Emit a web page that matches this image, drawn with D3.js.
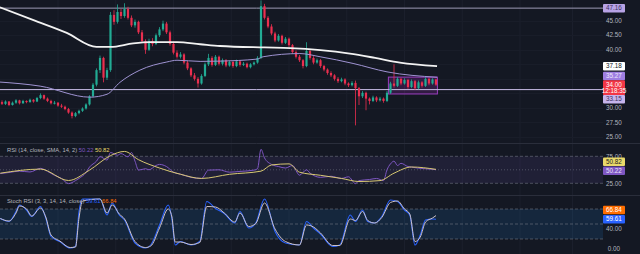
<!DOCTYPE html>
<html lang="en">
<head>
<meta charset="UTF-8">
<title>Price chart with RSI and Stoch RSI</title>
<script src="https://cdn.jsdelivr.net/npm/d3@7"></script>
<style>
  body { margin: 0; background: #141823; }
  svg { display: block; font-family: "Liberation Sans", Arial, sans-serif; }
</style>
</head>
<body>
<svg id="chart" width="640" height="254"></svg>
<script>
// candles: [open, high, low, close], one per bar
const candles = [
  [31.0,31.3,30.5,30.7],[30.7,31.3,30.5,31.1],[31.1,31.2,30.3,30.5],[30.5,31.1,30.4,30.9],
  [30.9,31.5,30.7,31.3],[31.3,31.4,30.6,30.8],[30.8,31.4,30.7,31.2],[31.2,31.3,30.8,31.0],
  [31.0,31.6,30.9,31.4],[31.4,31.5,30.9,31.1],[31.1,31.9,31.0,31.7],[31.7,32.5,31.5,32.2],
  [32.2,32.3,31.4,31.6],[31.6,31.8,31.0,31.2],[31.2,31.4,30.6,30.8],[30.8,31.2,30.6,30.9],
  [30.9,31.0,30.2,30.4],[30.4,30.7,30.0,30.2],[30.2,30.4,29.6,29.8],[29.8,30.0,29.0,29.2],
  [29.2,29.4,28.2,28.6],[28.6,29.3,28.4,29.1],[29.1,29.7,28.9,29.5],[29.5,30.1,29.3,29.9],
  [29.9,30.8,29.7,30.6],[30.6,32.2,30.4,32.0],[32.0,34.3,31.8,34.0],[34.0,36.8,33.7,36.5],
  [36.5,39.0,36.0,38.6],[38.6,38.8,34.4,35.2],[35.2,36.9,34.8,36.5],[36.5,46.5,36.2,46.0],
  [46.0,46.8,44.3,44.8],[44.8,47.8,44.5,46.5],[46.5,47.0,45.3,45.8],[45.8,48.0,45.5,47.0],
  [47.0,47.4,45.2,45.5],[45.5,45.9,43.9,44.2],[44.2,45.2,43.8,44.8],[44.8,45.0,42.7,43.0],
  [43.0,43.4,41.2,41.5],[41.5,41.8,39.3,40.0],[40.0,41.9,39.8,41.5],[41.5,42.0,40.6,41.0],
  [41.0,42.8,40.8,42.5],[42.5,43.9,42.2,43.5],[43.5,45.0,43.2,44.5],[44.5,44.8,42.7,43.0],
  [43.0,43.3,40.7,41.0],[41.0,41.4,39.2,39.5],[39.5,39.9,38.5,38.8],[38.8,39.6,38.5,39.2],
  [39.2,39.4,37.5,37.8],[37.8,38.1,36.5,36.8],[36.8,37.0,35.3,35.6],[35.6,36.0,34.7,35.0],
  [35.0,35.3,33.5,34.2],[34.2,35.8,34.0,35.5],[35.5,37.8,35.3,37.5],[37.5,39.3,37.2,38.6],
  [38.6,38.9,37.1,37.4],[37.4,39.1,37.2,38.8],[38.8,39.0,37.3,37.6],[37.6,38.5,37.3,38.2],
  [38.2,38.4,37.0,37.3],[37.3,38.2,37.1,37.9],[37.9,38.1,36.9,37.2],[37.2,38.3,37.0,38.0],
  [38.0,38.2,37.1,37.4],[37.4,37.9,37.2,37.6],[37.6,37.8,36.8,37.0],[37.0,37.7,36.8,37.5],
  [37.5,38.0,37.3,37.8],[37.8,38.9,37.6,38.6],[38.6,48.5,38.4,47.5],[47.5,47.9,45.2,45.5],
  [45.5,45.8,43.7,44.0],[44.0,44.4,42.5,42.8],[42.8,43.1,41.3,41.6],[41.6,42.7,41.4,42.4],
  [42.4,42.6,40.9,41.2],[41.2,42.2,41.0,41.9],[41.9,42.1,40.5,40.8],[40.8,41.0,39.3,39.6],
  [39.6,39.9,38.5,38.8],[38.8,39.1,37.9,38.2],[38.2,38.4,36.8,37.2],[37.2,41.3,37.0,39.8],
  [39.8,40.1,38.3,38.6],[38.6,38.9,37.5,37.8],[37.8,38.5,37.6,38.2],[38.2,38.4,36.9,37.2],
  [37.2,37.4,36.3,36.6],[36.6,36.8,35.7,36.0],[36.0,36.3,35.3,35.6],[35.6,35.8,34.7,35.0],
  [35.0,35.3,34.3,34.6],[34.6,35.2,34.4,34.9],[34.9,35.1,33.9,34.2],[34.2,34.4,33.6,33.9],
  [33.9,34.6,33.7,34.3],[34.3,34.7,27.0,33.4],[33.4,33.6,30.5,32.0],[32.0,32.9,31.7,32.6],
  [32.6,32.8,29.6,31.6],[31.6,31.8,30.6,31.2],[31.2,32.1,31.0,31.8],[31.8,32.0,31.0,31.3],
  [31.3,31.9,31.1,31.6],[31.6,31.8,30.9,31.2],[31.2,32.9,31.0,32.6],[32.6,34.5,32.4,34.2],
  [34.2,37.5,33.5,33.8],[33.8,35.3,33.6,35.0],[35.0,35.2,33.9,34.2],[34.2,35.1,34.0,34.8],
  [34.8,35.0,33.3,33.6],[33.6,34.9,33.4,34.6],[34.6,34.8,33.1,33.4],[33.4,34.7,33.2,34.4],
  [34.4,34.6,33.5,33.8],[33.8,35.3,33.6,35.0],[35.0,35.2,33.9,34.2],[34.2,35.1,34.0,34.9],
  [34.9,35.0,33.8,34.0]
];

// moving averages, read at bar positions
const maWhiteIdx = [-0.6, 9, 18.5, 27, 31, 37.5, 42.3, 50, 56.6, 62.3, 75, 82.3, 91, 99.4, 106.6, 113.7, 124.3];
const maWhite    = [47.3, 45.1, 42.9, 40.5, 40.5, 41.1, 41.3, 41.3, 40.95, 40.65, 40.4, 40.3, 39.95, 39.35, 38.6, 37.8, 37.18];
const maPurpleIdx = [-0.6, 10.9, 25.1, 30, 33.7, 39.4, 47.1, 50, 56.6, 62.3, 72.9, 74.6, 85.1, 90.9, 100.3, 110, 124.3];
const maPurple    = [34.45, 33.75, 31.85, 32.35, 34.4, 36.5, 37.9, 38.2, 38.0, 38.05, 38.4, 38.8, 39.35, 38.8, 37.65, 36.2, 35.27];

// horizontal levels and the range box
const levels = [47.16, 33.15];
const boxBars = [110.4, 124.4];
const boxPrices = [35.3, 32.4];

// RSI and its SMA
const rsiIdx = [-0.5, 2, 5, 8, 11, 13, 15, 17, 19, 21, 22, 24, 25, 27, 28, 30, 31, 33, 34, 36,
  37, 38, 39, 41, 42, 44, 45, 47, 49, 51, 54, 57, 59, 62, 65, 68, 72, 73, 74, 75,
  77, 79, 81, 83, 85, 87, 88, 91, 94, 97, 99, 101, 102, 105, 107, 109, 110, 111, 112, 113,
  114, 116, 117, 119, 121, 124];
const rsiVals = [43, 45, 47.5, 46, 52.7, 47, 39.8, 34, 24.4, 30, 34, 45, 55, 66, 74.4, 68, 82, 77, 80, 74,
  82, 66, 49.4, 52, 50, 58, 60, 56, 45.6, 42, 36, 34, 49.4, 50, 45.6, 47, 49.4, 52, 87.9, 72,
  60, 56, 53.3, 58, 40, 50, 44, 36, 38, 34, 37, 24.4, 30, 32, 34, 30, 50, 61, 66, 58,
  62, 56, 55, 53, 52, 50.22];
const rsiMaIdx = [-0.5, 11, 19, 25, 31, 35, 39, 45, 51, 57, 65, 74, 77, 82, 85, 91, 97, 102, 108, 112, 117, 124];
const rsiMa = [43.7, 51.3, 30.2, 49.4, 76.3, 84, 68.7, 53.3, 41.7, 34, 41.7, 47.5, 59, 61, 45.6, 39.8, 34, 28.3, 30, 43.7, 55.2, 50.82];

// Stoch RSI %K and %D
const stochIdx = [-0.5, 2, 4, 5, 7, 8.5, 11, 12.5, 14, 16.5, 19.5, 21, 22, 23, 28, 30, 31.5, 33.5, 35, 38, 41, 42.5, 45, 47.5, 48.5, 49.5, 51, 54, 56.5, 58.5, 61, 63.5, 66.5, 68, 70.5, 72.5, 75, 78, 81, 85, 87, 89, 91, 94.5, 96.5, 99.5, 101, 103, 104.5, 106.5, 108.5, 111, 113, 115, 116.5, 118, 119.5, 121, 123, 124];
const stochK = [61, 55, 75, 88, 78, 65, 85, 62, 25, 15, 2, 5, 75, 100, 100, 68, 92, 68, 58, 12, 2, 8, 48, 88, 62, 8, 15, 8, 15, 95, 81, 71, 52, 75, 42, 52, 100, 35, 12, 8, 55, 42, 30, 5, 8, 68, 55, 78, 55, 52, 65, 98, 95, 78, 68, 8, 28, 58, 60, 59.61];
const stochD = [61, 56, 72, 86, 80, 66, 82, 64, 28, 16, 3, 4, 62, 96, 100, 72, 88, 70, 60, 15, 3, 6, 42, 80, 66, 14, 14, 9, 13, 85, 84, 72, 54, 72, 45, 51, 92, 40, 15, 8, 48, 44, 32, 7, 7, 60, 57, 75, 57, 52, 63, 93, 96, 80, 70, 15, 24, 54, 62, 66.84];

// axis ticks and time grid
const priceTicks = [45, 42.5, 40, 30, 27.5, 25];
const gridBars = [16, 32.5, 49, 65.5, 82, 98.5, 115, 131.5, 148, 163];

const plotRight = 603;
const svg = d3.select("#chart");

svg.append("rect").attr("width", 640).attr("height", 254).attr("fill", "#141823");

var x = d3.scaleLinear().domain([0, candles.length - 1]).range([2, 436]);
var yP = d3.scaleLinear().domain([25, 45]).range([137, 20.7]);
var yR = d3.scaleLinear().domain([25, 75]).range([183.3, 156.3]);
var yS = d3.scaleLinear().domain([0, 100]).range([249, 199]);

// clip rects for the three panes
var defs = svg.append("defs");
[["clipMain", 0, 143], ["clipRsi", 143.5, 51.5], ["clipStoch", 195.5, 58.5]].forEach(function (c) {
  defs.append("clipPath").attr("id", c[0]).append("rect")
    .attr("x", 0).attr("y", c[1]).attr("width", plotRight).attr("height", c[2]);
});

// grid
var grid = svg.append("g");
grid.selectAll(".vg").data(gridBars).enter().append("line")
  .attr("x1", function (d) { return x(d); }).attr("x2", function (d) { return x(d); })
  .attr("y1", 0).attr("y2", 254)
  .attr("stroke", "#1b1f2c").attr("stroke-width", 1);
grid.selectAll(".hg").data(priceTicks.concat([37.5, 35, 32.5])).enter().append("line")
  .attr("x1", 0).attr("x2", plotRight)
  .attr("y1", function (d) { return Math.round(yP(d)) + 0.5; })
  .attr("y2", function (d) { return Math.round(yP(d)) + 0.5; })
  .attr("stroke", "#191d29");

// pane separators
[143.5, 195.5].forEach(function (yy) {
  svg.append("line").attr("x1", 0).attr("x2", 640).attr("y1", yy).attr("y2", yy)
    .attr("stroke", "#2a2e3b");
});

// ---------- main pane ----------
var main = svg.append("g").attr("clip-path", "url(#clipMain)");

// range box
main.append("rect")
  .attr("x", x(boxBars[0])).attr("width", x(boxBars[1]) - x(boxBars[0]))
  .attr("y", yP(boxPrices[0])).attr("height", yP(boxPrices[1]) - yP(boxPrices[0]))
  .attr("fill", "rgba(156,39,176,0.22)").attr("stroke", "#9b3fc0").attr("stroke-width", 1);

// horizontal levels
main.append("line").attr("x1", 0).attr("x2", plotRight)
  .attr("y1", yP(levels[0])).attr("y2", yP(levels[0]))
  .attr("stroke", "#9d99b4").attr("stroke-width", 1);
main.append("line").attr("x1", 0).attr("x2", plotRight)
  .attr("y1", yP(levels[1])).attr("y2", yP(levels[1]))
  .attr("stroke", "#c8bce6").attr("stroke-width", 1);

var up = "#22ab94", down = "#eb2f4f";
var bars = main.selectAll(".c").data(candles).enter().append("g");
bars.append("line")
  .attr("x1", function (d, i) { return x(i); }).attr("x2", function (d, i) { return x(i); })
  .attr("y1", function (d) { return yP(d[1]); }).attr("y2", function (d) { return yP(d[2]); })
  .attr("stroke", function (d) { return d[3] >= d[0] ? up : down; }).attr("stroke-width", 0.8);
bars.append("rect")
  .attr("x", function (d, i) { return x(i) - 1.1; }).attr("width", 2.2)
  .attr("y", function (d) { return yP(Math.max(d[0], d[3])); })
  .attr("height", function (d) { return Math.max(1, Math.abs(yP(d[0]) - yP(d[3]))); })
  .attr("fill", function (d) { return d[3] >= d[0] ? up : down; });

var lineP = d3.line().x(function (d) { return x(d[0]); }).y(function (d) { return yP(d[1]); }).curve(d3.curveMonotoneX);
main.append("path").datum(d3.zip(maPurpleIdx, maPurple)).attr("d", lineP)
  .attr("fill", "none").attr("stroke", "#9f93d2").attr("stroke-width", 1);
main.append("path").datum(d3.zip(maWhiteIdx, maWhite)).attr("d", lineP)
  .attr("fill", "none").attr("stroke", "#f2f2f2").attr("stroke-width", 1.8);

// ---------- RSI pane ----------
var rsi = svg.append("g").attr("clip-path", "url(#clipRsi)");
rsi.append("rect").attr("x", 0).attr("width", plotRight)
  .attr("y", yR(75)).attr("height", yR(25) - yR(75)).attr("fill", "rgba(126,87,194,0.12)");
[[75, "3,2"], [50, "1,2"], [25, "3,2"]].forEach(function (l) {
  rsi.append("line").attr("x1", 0).attr("x2", plotRight).attr("y1", yR(l[0])).attr("y2", yR(l[0]))
    .attr("stroke", "rgba(120,123,134,0.55)").attr("stroke-dasharray", l[1]);
});
var lineR = d3.line().x(function (d) { return x(d[0]); }).y(function (d) { return yR(d[1]); }).curve(d3.curveMonotoneX);
rsi.append("path").datum(d3.zip(rsiIdx, rsiVals)).attr("d", lineR)
  .attr("fill", "none").attr("stroke", "#7e57c2").attr("stroke-width", 1);
rsi.append("path").datum(d3.zip(rsiMaIdx, rsiMa)).attr("d", lineR)
  .attr("fill", "none").attr("stroke", "#d8c872").attr("stroke-width", 1);

// ---------- Stoch RSI pane ----------
var st = svg.append("g").attr("clip-path", "url(#clipStoch)");
st.append("rect").attr("x", 0).attr("width", plotRight)
  .attr("y", yS(80)).attr("height", yS(20) - yS(80)).attr("fill", "rgba(33,150,243,0.13)");
[80, 50, 20].forEach(function (v) {
  st.append("line").attr("x1", 0).attr("x2", plotRight).attr("y1", yS(v)).attr("y2", yS(v))
    .attr("stroke", "rgba(120,123,134,0.55)").attr("stroke-dasharray", "3,2");
});
var lineS = d3.line().x(function (d) { return x(d[0]); }).y(function (d) { return yS(d[1]); }).curve(d3.curveMonotoneX);
st.append("path").datum(d3.zip(stochIdx, stochK)).attr("d", lineS)
  .attr("fill", "none").attr("stroke", "#2962ff").attr("stroke-width", 1.1);
st.append("path").datum(d3.zip(stochIdx, stochD)).attr("d", lineS)
  .attr("fill", "none").attr("stroke", "#cdc2c6").attr("stroke-width", 1);

// ---------- right scale ----------
var axis = svg.append("g").attr("font-size", 6.3);
function axisText(yy, txt) {
  axis.append("text").attr("x", 614).attr("y", yy).attr("dy", "0.35em")
    .attr("text-anchor", "middle").attr("fill", "#b2b5be").text(txt);
}
function tag(yc, txt, bg, fg, h) {
  h = h || 8.5;
  axis.append("rect").attr("x", 603).attr("y", yc - h / 2).attr("width", 22).attr("height", h)
    .attr("rx", 1).attr("fill", bg);
  axis.append("text").attr("x", 614).attr("y", yc).attr("dy", "0.35em")
    .attr("text-anchor", "middle").attr("fill", fg).text(txt);
}
priceTicks.forEach(function (p) { axisText(yP(p), p.toFixed(2)); });

tag(yP(levels[0]), levels[0].toFixed(2), "#b8a3e6", "#3b2f60");
tag(yP(maWhite[maWhite.length - 1]), maWhite[maWhite.length - 1].toFixed(2), "#ffffff", "#131722");
tag(yP(maPurple[maPurple.length - 1]) - 1.3, maPurple[maPurple.length - 1].toFixed(2), "#9f7fe2", "#ece6fb");
var last = candles[candles.length - 1][3];
axis.append("rect").attr("x", 603).attr("y", yP(last) - 4.5).attr("width", 22).attr("height", 15)
  .attr("rx", 1).attr("fill", "#f23645");
axis.append("text").attr("x", 614).attr("y", yP(last)).attr("dy", "0.35em")
  .attr("text-anchor", "middle").attr("fill", "#ffffff").text(last.toFixed(2));
axis.append("text").attr("x", 614).attr("y", yP(last) + 6.5).attr("dy", "0.35em")
  .attr("text-anchor", "middle").attr("fill", "#ffffff").text("12:18:35");
tag(yP(last) + 14.5, levels[1].toFixed(2), "#c6b4ec", "#3b2f60");

axisText(yR(75), "75.00");
axisText(yR(25), "25.00");
tag(yR(rsiMa[rsiMa.length - 1]) - 7.5, rsiMa[rsiMa.length - 1].toFixed(2), "#e9d96a", "#1b1b1b");
tag(yR(rsiVals[rsiVals.length - 1]) + 1, rsiVals[rsiVals.length - 1].toFixed(2), "#7e57c2", "#ece6fb");

axisText(yS(40), "40.00");
axisText(yS(0), "0.00");
tag(yS(stochD[stochD.length - 1]) - 5.5, stochD[stochD.length - 1].toFixed(2), "#ff6d00", "#ffffff");
tag(yS(stochK[stochK.length - 1]), stochK[stochK.length - 1].toFixed(2), "#2962ff", "#ffffff");

// ---------- pane titles ----------
var titles = svg.append("g").attr("font-size", 5.8);
var t1 = titles.append("text").attr("x", 7).attr("y", 150).attr("dy", "0.35em");
t1.append("tspan").attr("fill", "#b2b5be").text("RSI (14, close, SMA, 14, 2) ");
t1.append("tspan").attr("fill", "#7e57c2").text(rsiVals[rsiVals.length - 1].toFixed(2) + " ");
t1.append("tspan").attr("fill", "#e9d96a").text(rsiMa[rsiMa.length - 1].toFixed(2));
var t2 = titles.append("text").attr("x", 7).attr("y", 200.5).attr("dy", "0.35em");
t2.append("tspan").attr("fill", "#b2b5be").text("Stoch RSI (3, 3, 14, 14, close) ");
t2.append("tspan").attr("fill", "#2962ff").text(stochK[stochK.length - 1].toFixed(2) + " ");
t2.append("tspan").attr("fill", "#ff6d00").text(stochD[stochD.length - 1].toFixed(2));
</script>
</body>
</html>
